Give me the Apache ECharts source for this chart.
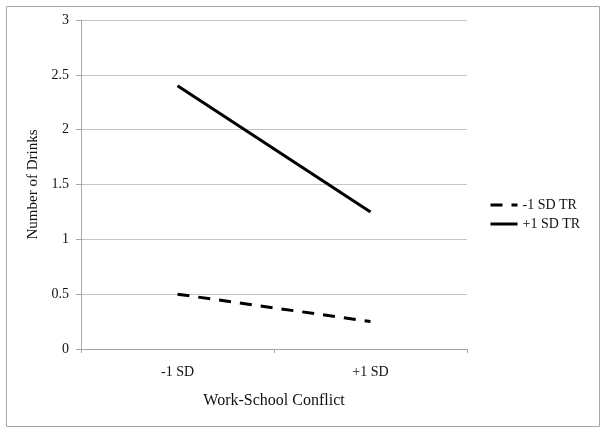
<!DOCTYPE html>
<html><head><meta charset="utf-8">
<script src="https://cdn.jsdelivr.net/npm/echarts@6/dist/echarts.min.js"></script>
<style>html,body{margin:0;padding:0;background:#fff}#c{width:602px;height:429px}</style>
</head><body><div id="c"></div>
<script>
const categories = ['-1 SD', '+1 SD'];
const seriesNames = ['-1 SD TR', '+1 SD TR'];
const lowTR = [0.50, 0.25];
const highTR = [2.40, 1.25];
const yTicks = { min: 0, max: 3, interval: 0.5 };

const chart = echarts.init(document.getElementById('c'), null, { renderer: 'canvas' });
const font = 'Liberation Serif';
chart.setOption({
  animation: false,
  backgroundColor: '#fff',
  graphic: [{
    type: 'rect', left: 4, top: 4, shape: { width: 593, height: 420 },
    style: { fill: 'none', stroke: '#a6a6a6', lineWidth: 1 }, silent: true
  }],
  grid: { left: 81, top: 20, right: 135, bottom: 80 },
  legend: {
    orient: 'vertical', left: 484, top: 193, itemWidth: 27, itemHeight: 12, itemGap: 5,
    textStyle: { fontFamily: font, fontSize: 14, color: '#111' },
    itemStyle: { opacity: 0 },
    lineStyle: { width: 3 },
    data: seriesNames.slice()
  },
  xAxis: {
    type: 'category', data: categories, boundaryGap: true,
    name: 'Work-School Conflict', nameLocation: 'middle', nameGap: 44,
    nameTextStyle: { fontFamily: font, fontSize: 16, color: '#111' },
    axisLine: { lineStyle: { color: '#a6a6a6', width: 1 } },
    axisTick: { show: true, length: 4, lineStyle: { color: '#a6a6a6' } },
    axisLabel: { fontFamily: font, fontSize: 14, color: '#111', margin: 16 }
  },
  yAxis: {
    type: 'value', min: yTicks.min, max: yTicks.max, interval: yTicks.interval,
    name: 'Number of Drinks', nameLocation: 'middle', nameGap: 40, nameRotate: 90,
    nameTextStyle: { fontFamily: font, fontSize: 15, color: '#111' },
    axisLine: { show: true, lineStyle: { color: '#a6a6a6', width: 1 } },
    axisTick: { show: true, length: 5, lineStyle: { color: '#a6a6a6' } },
    axisLabel: { fontFamily: font, fontSize: 14, color: '#111', margin: 12 },
    splitLine: { show: true, lineStyle: { color: '#c4c4c4', width: 1 } }
  },
  series: [
    { name: seriesNames[0], type: 'line', data: lowTR, symbol: 'none',
      lineStyle: { color: '#000', width: 3, type: [12, 9] }, itemStyle: { color: '#000' } },
    { name: seriesNames[1], type: 'line', data: highTR, symbol: 'none',
      lineStyle: { color: '#000', width: 3, type: 'solid' }, itemStyle: { color: '#000' } }
  ]
});
</script></body></html>
